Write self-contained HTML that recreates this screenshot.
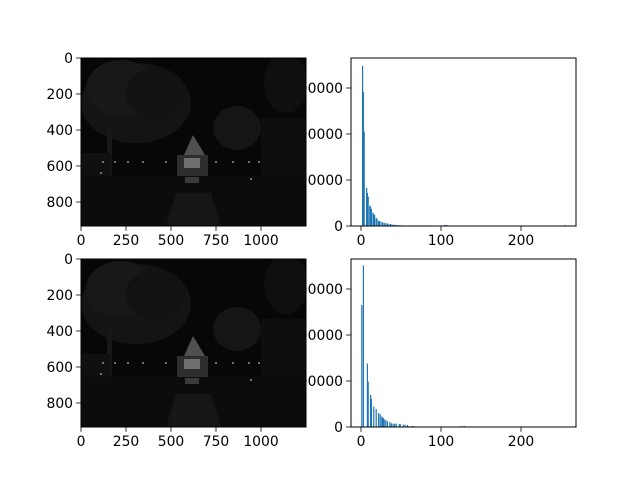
<!DOCTYPE html>
<html><head><meta charset="utf-8"><style>
body{margin:0;background:#fff;}
svg{display:block;font-family:"DejaVu Sans","Liberation Sans",sans-serif;}
</style></head><body>
<svg id="fig" width="640" height="480" viewBox="0 0 640 480" xmlns="http://www.w3.org/2000/svg">
<defs>
<clipPath id="imgclip"><rect x="0" y="0" width="225" height="168"/></clipPath>
<g id="scene">
 <g clip-path="url(#imgclip)">
  <rect x="0" y="0" width="225" height="168" fill="#070707"/>
  <ellipse cx="55" cy="45" rx="55" ry="40" fill="#141414"/>
  <ellipse cx="40" cy="30" rx="35" ry="28" fill="#181818"/>
  <ellipse cx="75" cy="35" rx="30" ry="25" fill="#121212"/>
  <rect x="26" y="70" width="5" height="85" fill="#181818"/>
  <ellipse cx="156" cy="70" rx="24" ry="22" fill="#151515"/>
  <ellipse cx="205" cy="25" rx="22" ry="30" fill="#0f0f0f"/>
  <rect x="180" y="60" width="45" height="108" fill="#0e0e0e"/>
  <rect x="0" y="95" width="30" height="73" fill="#101010"/>
  <polygon points="112,77 103,97 124,97" fill="#505050"/>
  <rect x="96" y="97" width="31" height="21" fill="#2e2e2e"/>
  <rect x="103" y="100" width="16" height="10" fill="#707070"/>
  <rect x="0" y="118" width="225" height="50" fill="#0c0c0c"/>
  <rect x="104" y="119" width="14" height="6" fill="#3a3a3a"/>
  <polygon points="85,168 95,135 130,135 140,168" fill="#161616"/>
  <g fill="#bdbdbd">
    <circle cx="22" cy="104" r="0.9"/><circle cx="34" cy="104" r="0.9"/><circle cx="47" cy="104" r="0.9"/>
    <circle cx="62" cy="104" r="0.9"/><circle cx="85" cy="104" r="0.9"/><circle cx="135" cy="104" r="0.9"/>
    <circle cx="152" cy="104" r="0.9"/><circle cx="168" cy="104" r="0.9"/><circle cx="178" cy="104" r="0.9"/>
    <circle cx="170" cy="121" r="0.9"/><circle cx="20" cy="115" r="0.9"/>
  </g>
 </g>
</g>
</defs>
<g id="hists"></g>
<g id="images"></g>
</svg>
<script>
// Top histogram data
const topBins = [2,3,4,7,8,9,11,12,13,15,16,17,19,20,22,23,25,27,29,31,33,35,37,39,41,43,45,47,49,51,55,60,65,70,75,80,85,90,95,100,105,107,110,113,255];
const topCounts = [348000,291000,205000,83000,72000,64000,44000,42000,37000,29000,26000,24000,17000,16000,11000,11000,9400,8000,7000,5800,5800,4300,4300,2900,2900,2000,2000,1600,1500,1500,1500,1500,1500,1500,1500,1400,1400,1200,1100,1100,2500,2400,1200,1000,2000];
// Bottom histogram data
const botBins = [1,3,8,9,12,13,16,19,22,24,26,27,28,29,31,33,36,38,40,42,44,48,49,53,55,58,59,64,65,125,129];
const botCounts = [265000,351000,138000,98500,70000,61000,44500,39000,30600,27700,22600,20400,19000,16800,15000,12400,11000,8000,7300,7300,7300,6500,6500,5000,5000,4400,2200,2200,2200,2200,2200];
const xTicks = [0,100,200];
const yTicks = [0,100000,200000,300000];
const imgXTicks = [0,250,500,750,1000];
const imgYTicks = [0,200,400,600,800];

const NS = "http://www.w3.org/2000/svg";
const hists = document.getElementById('hists');
const images = document.getElementById('images');
function mk(tag, attrs, parent){const e=document.createElementNS(NS,tag);for(const k in attrs)e.setAttribute(k,attrs[k]);parent.appendChild(e);return e;}

function histogram(top, bottom, bins, counts, name){
  const L=351, R=576;
  const g = mk('g',{},hists);
  
  
  const xs = v => 361 + v*0.8;
  const ys = v => bottom - v*46/100000*((bottom-top)/168);
  for(let i=0;i<bins.length;i++){
    const r = mk('rect',{x:xs(bins[i])-0.6,y:ys(counts[i]),width:1.2,height:bottom-ys(counts[i]),fill:'#1f77b4'},g);
    
    
  }
  const frame = mk('rect',{x:L,y:top,width:R-L,height:bottom-top,fill:'none',stroke:'#000','stroke-width':1},g);
  
  
  xTicks.forEach(t=>{
    mk('line',{x1:xs(t),x2:xs(t),y1:bottom,y2:bottom+4.9,stroke:'#000','stroke-width':0.8},g);
    const tx = mk('text',{x:xs(t),y:bottom+19,'font-size':13.9,'text-anchor':'middle'},g);
    tx.textContent = t;
    
    
  });
  yTicks.forEach(t=>{
    mk('line',{x1:L,x2:L-4.9,y1:ys(t),y2:ys(t),stroke:'#000','stroke-width':0.8},g);
    const tx = mk('text',{x:L-8,y:ys(t)+5,'font-size':13.9,'text-anchor':'end'},g);
    tx.textContent = t;
    
    
  });
}
function imagePanel(top, name){
  const L=81, W=225, H=168, bottom=top+H;
  const g = mk('g',{},images);
  
  
  mk('use',{href:'#scene',transform:`translate(${L},${top})`},g);
  mk('rect',{x:L,y:top,width:W,height:H,fill:'none',stroke:'#000','stroke-width':1},g);
  const s = 0.18;
  imgXTicks.forEach(t=>{
    const x=L+t*s;
    mk('line',{x1:x,x2:x,y1:bottom,y2:bottom+4.9,stroke:'#000','stroke-width':0.8},g);
    const tx=mk('text',{x:x,y:bottom+19,'font-size':13.9,'text-anchor':'middle'},g);
    tx.textContent=t;
    
    
  });
  imgYTicks.forEach(t=>{
    const y=top+t*s;
    mk('line',{x1:L,x2:L-4.9,y1:y,y2:y,stroke:'#000','stroke-width':0.8},g);
    const tx=mk('text',{x:L-8,y:y+5,'font-size':13.9,'text-anchor':'end'},g);
    tx.textContent=t;
    
    
  });
}
histogram(58, 226, topBins, topCounts, 'top-histogram');
histogram(259, 427, botBins, botCounts, 'bottom-histogram');
imagePanel(58, 'top-image');
imagePanel(259, 'bottom-image');
</script>
</body></html>
